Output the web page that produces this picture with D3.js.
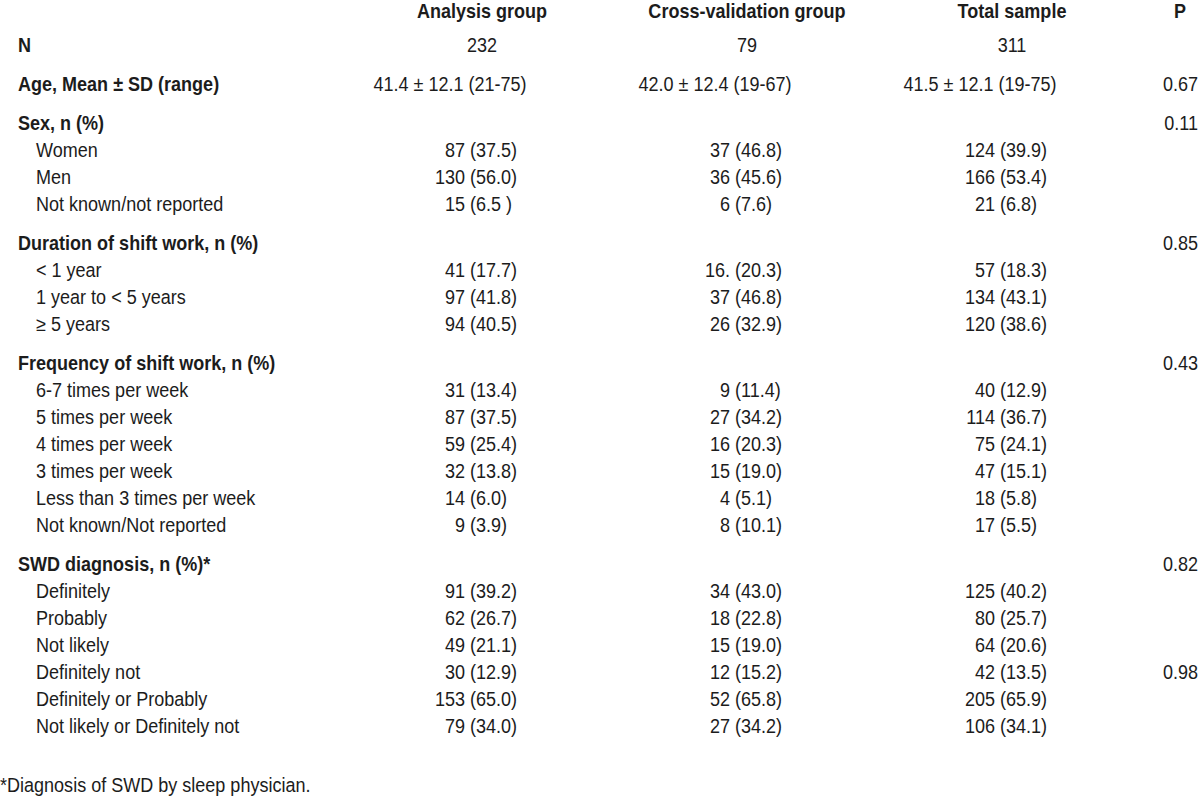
<!DOCTYPE html>
<html>
<head>
<meta charset="utf-8">
<script src="https://cdn.jsdelivr.net/npm/d3@7"></script>
<style>
  html, body { margin: 0; padding: 0; background: #fff; }
  svg text { font-family: "Liberation Sans", Arial, sans-serif; font-size: 19.5px; fill: #1c1c1c; white-space: pre; }
</style>
</head>
<body>
<svg id="chart" width="1200" height="798"></svg>
<script>
// ---- data ----
const columns = ["Analysis group", "Cross-validation group", "Total sample"];
const pHeader = "P";
const nLabel = "N";
const nValues = ["232", "79", "311"];
const ageLabel = "Age, Mean \u00b1 SD (range)";
const ageValues = ["41.4 \u00b1 12.1 (21-75)", "42.0 \u00b1 12.4 (19-67)", "41.5 \u00b1 12.1 (19-75)"];
const ageP = "0.67";

const sectionLabels = ["Sex, n (%)", "Duration of shift work, n (%)", "Frequency of shift work, n (%)", "SWD diagnosis, n (%)*"];
const sectionP = ["0.11", "0.85", "0.43", "0.82"];

const sexRows = [
  ["Women", "87 (37.5)", "37 (46.8)", "124 (39.9)", ""],
  ["Men", "130 (56.0)", "36 (45.6)", "166 (53.4)", ""],
  ["Not known/not reported", "15 (6.5 )", "6 (7.6)", "21 (6.8)", ""]
];
const durationRows = [
  ["< 1 year", "41 (17.7)", "16. (20.3)", "57 (18.3)", ""],
  ["1 year to < 5 years", "97 (41.8)", "37 (46.8)", "134 (43.1)", ""],
  ["\u2265 5 years", "94 (40.5)", "26 (32.9)", "120 (38.6)", ""]
];
const frequencyRows = [
  ["6-7 times per week", "31 (13.4)", "9 (11.4)", "40 (12.9)", ""],
  ["5 times per week", "87 (37.5)", "27 (34.2)", "114 (36.7)", ""],
  ["4 times per week", "59 (25.4)", "16 (20.3)", "75 (24.1)", ""],
  ["3 times per week", "32 (13.8)", "15 (19.0)", "47 (15.1)", ""],
  ["Less than 3 times per week", "14 (6.0)", "4 (5.1)", "18 (5.8)", ""],
  ["Not known/Not reported", "9 (3.9)", "8 (10.1)", "17 (5.5)", ""]
];
const swdRows = [
  ["Definitely", "91 (39.2)", "34 (43.0)", "125 (40.2)", ""],
  ["Probably", "62 (26.7)", "18 (22.8)", "80 (25.7)", ""],
  ["Not likely", "49 (21.1)", "15 (19.0)", "64 (20.6)", ""],
  ["Definitely not", "30 (12.9)", "12 (15.2)", "42 (13.5)", "0.98"],
  ["Definitely or Probably", "153 (65.0)", "52 (65.8)", "205 (65.9)", ""],
  ["Not likely or Definitely not", "79 (34.0)", "27 (34.2)", "106 (34.1)", ""]
];
const footnote = "*Diagnosis of SWD by sleep physician.";

// ---- layout ----
const svg = d3.select("#chart");
svg.append("rect").attr("width", 1200).attr("height", 798).attr("fill", "#fff");

// x position of the opening parenthesis in each data column
const col = d3.scalePoint().domain(columns).range([470, 1000]);
const pRight = 1198;
const labelX = 18, itemX = 36;
const rowStep = 27, sectionGap = 39;
const squeeze = 0.925; // narrow typeface look

const g = svg.append("g");

function txt(x, y, s, anchor, bold) {
  return g.append("text")
    .attr("transform", `translate(${x},${y}) scale(${squeeze},1)`)
    .attr("text-anchor", anchor || "start")
    .attr("font-weight", bold ? "bold" : "normal")
    .text(s);
}
function value(c, y, s) {
  const i = s.indexOf(" (");
  const x = col(c);
  if (i < 0) { txt(x + 12, y, s, "middle"); return; }
  txt(x - 5, y, s.slice(0, i), "end");
  txt(x, y, s.slice(i + 1), "start");
}

// header
const yHeader = 18;
columns.forEach(c => txt(col(c) + 12, yHeader, c, "middle", true));
txt(1180, yHeader, pHeader, "middle", true);

// N
const yN = 52;
txt(labelX, yN, nLabel, "start", true);
columns.forEach((c, i) => txt(col(c) + 12, yN, nValues[i], "middle"));

// Age
const yAge = 91;
txt(labelX, yAge, ageLabel, "start", true);
columns.forEach((c, i) => txt(col(c) - 20, yAge, ageValues[i], "middle"));
txt(pRight, yAge, ageP, "end");

// sections
const sections = [sexRows, durationRows, frequencyRows, swdRows];
let y = yAge;
sections.forEach((rows, si) => {
  y += sectionGap;
  txt(labelX, y, sectionLabels[si], "start", true);
  txt(pRight, y, sectionP[si], "end");
  rows.forEach(r => {
    y += rowStep;
    txt(itemX, y, r[0], "start");
    columns.forEach((c, i) => value(c, y, r[i + 1]));
    if (r[4]) txt(pRight, y, r[4], "end");
  });
});

// footnote
txt(0, 792, footnote, "start");
</script>
</body>
</html>
